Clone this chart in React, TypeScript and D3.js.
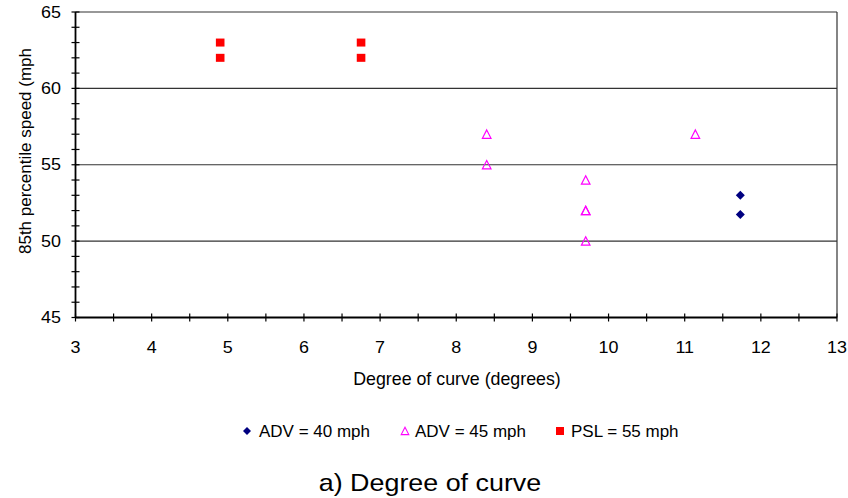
import React from 'react';
import * as d3 from 'd3';

// degree of curve (degrees) vs 85th percentile speed (mph)
const adv40X = [11.73, 11.73];
const adv40Y = [53, 51.75];
const adv45X = [8.4, 8.4, 9.7, 9.7, 9.7, 9.7, 11.14];
const adv45Y = [57, 55, 54, 52, 52, 50, 57];
const pslX = [4.9, 4.9, 6.75, 6.75];
const pslY = [63, 62, 63, 62];

const xTicks = [3, 4, 5, 6, 7, 8, 9, 10, 11, 12, 13];
const yTicks = [45, 50, 55, 60, 65];
const gridValues = [50, 55, 60];

const W = 848;
const H = 498;
const plot = { left: 75.5, right: 837, top: 12, bottom: 317.5 };
const font = '"Liberation Sans", Arial, sans-serif';

const x = d3.scaleLinear().domain([3, 13]).range([plot.left, plot.right]);
const y = d3.scaleLinear().domain([45, 65]).range([plot.bottom, plot.top]);

// text helper, sx stretches horizontally like the source image
const Txt = ({ x0, y0, size, anchor = 'start', rotate = 0, sx = 1, children }: any) => (
  <text
    transform={`translate(${x0},${y0}) rotate(${rotate}) scale(${sx},1)`}
    fontSize={size}
    fontFamily={font}
    textAnchor={anchor}
    fill='#000'>
    {children}
  </text>
);

const diamond = (cx: number, cy: number, r = 4.5) =>
  `M${cx},${cy - r}L${cx + r},${cy}L${cx},${cy + r}L${cx - r},${cy}Z`;
const triangle = (cx: number, cy: number, r = 4.3) =>
  `M${cx},${cy - r}L${cx + r},${cy + r * 0.95}L${cx - r},${cy + r * 0.95}Z`;

const App = () => {
  const minorX = d3.range(3, 13.01, 0.5);
  const minorY = d3.range(45, 65.01, 1);

  return (
    <svg
      width={W}
      height={H}
      style={{ position: 'absolute', left: 0, top: 0, background: '#fff' }}>
      {/* grid lines */}
      {gridValues.map((v) => (
        <line
          key={v}
          x1={plot.left}
          x2={plot.right}
          y1={y(v)}
          y2={y(v)}
          stroke='#333'
          strokeWidth={1.2}
        />
      ))}
      {/* plot box */}
      <line x1={plot.left} x2={plot.right} y1={plot.top} y2={plot.top} stroke='#333' strokeWidth={1.2} />
      <line x1={plot.right} x2={plot.right} y1={plot.top} y2={plot.bottom} stroke='#333' strokeWidth={1.2} />

      {/* axes */}
      <line x1={plot.left} x2={plot.left} y1={plot.top} y2={plot.bottom} stroke='#000' strokeWidth={1.8} />
      <line x1={plot.left} x2={plot.right} y1={plot.bottom} y2={plot.bottom} stroke='#000' strokeWidth={1.8} />
      {minorY.map((v) => (
        <line key={'ty' + v} x1={plot.left - 4} x2={plot.left + 4} y1={y(v)} y2={y(v)} stroke='#000' strokeWidth={1.2} />
      ))}
      {minorX.map((v) => (
        <line key={'tx' + v} x1={x(v)} x2={x(v)} y1={plot.bottom - 4} y2={plot.bottom + 4} stroke='#000' strokeWidth={1.2} />
      ))}
      {yTicks.map((v) => (
        <Txt key={'ly' + v} x0={61} y0={y(v) + 5.6} size={16} anchor='end' sx={1.12}>
          {v}
        </Txt>
      ))}
      {xTicks.map((v) => (
        <Txt key={'lx' + v} x0={x(v)} y0={353} size={16} anchor='middle' sx={1.12}>
          {v}
        </Txt>
      ))}
      <Txt x0={457} y0={385} size={17.8} anchor='middle'>
        Degree of curve (degrees)
      </Txt>
      <Txt x0={31} y0={151} size={17} anchor='middle' rotate={-90}>
        85th percentile speed (mph
      </Txt>

      {/* series */}
      {pslX.map((v, i) => (
        <rect key={'p' + i} x={x(v) - 4.3} y={y(pslY[i]) - 4} width={8.6} height={8} fill='#FF0000' />
      ))}
      {adv45X.map((v, i) => (
        <path key={'a45' + i} d={triangle(x(v), y(adv45Y[i]))} fill='none' stroke='#FF00FF' strokeWidth={1.2} />
      ))}
      {adv40X.map((v, i) => (
        <path key={'a40' + i} d={diamond(x(v), y(adv40Y[i]))} fill='#000080' />
      ))}

      {/* legend */}
      <path d={diamond(247, 431, 4)} fill='#000080' />
      <Txt x0={259} y0={437} size={17}>ADV = 40 mph</Txt>
      <path d={triangle(405, 431, 3.8)} fill='none' stroke='#FF00FF' strokeWidth={1.1} />
      <Txt x0={415} y0={437} size={17}>ADV = 45 mph</Txt>
      <rect x={556} y={427} width={8} height={8} fill='#FF0000' />
      <Txt x0={571} y0={437} size={17}>PSL = 55 mph</Txt>

      <Txt x0={430} y0={491} size={24} anchor='middle' sx={1.12}>
        a) Degree of curve
      </Txt>
    </svg>
  );
};

export default App;
